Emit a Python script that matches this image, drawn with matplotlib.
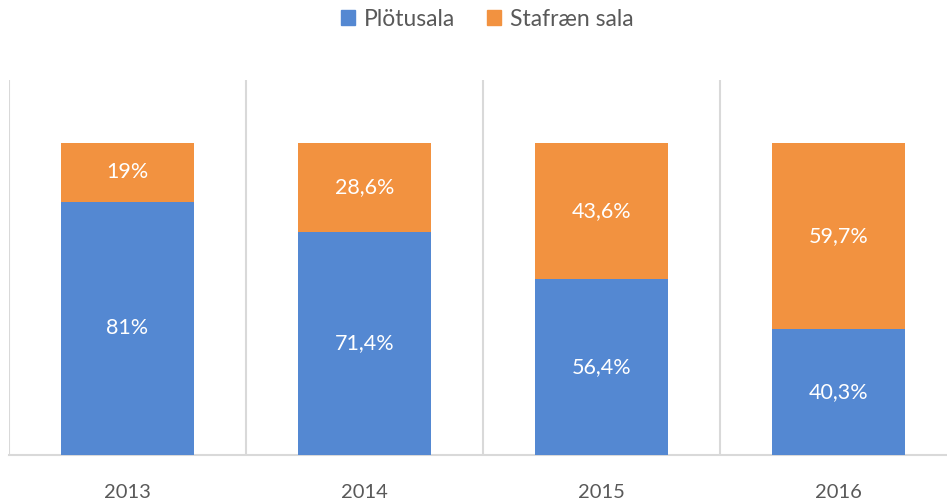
import matplotlib
matplotlib.use("Agg")
import matplotlib.pyplot as plt
from matplotlib.patches import Patch

plt.rcParams['font.family'] = ['Lato', 'DejaVu Sans']

years = ["2013", "2014", "2015", "2016"]
plotusala = [81, 71.4, 56.4, 40.3]
stafraen = [19, 28.6, 43.6, 59.7]
plot_labels = ["81%", "71,4%", "56,4%", "40,3%"]
staf_labels = ["19%", "28,6%", "43,6%", "59,7%"]

blue = "#5488D2"
orange = "#F29240"
txt = "#595959"

fig = plt.figure(figsize=(9.47, 5.01), dpi=100)
ax = fig.add_axes([9/947, (501-455)/501, 938/947, (455-80)/501])

x = list(range(len(years)))
w = 0.56
ax.bar(x, plotusala, width=w, color=blue, zorder=3)
ax.bar(x, stafraen, width=w, bottom=plotusala, color=orange, zorder=3)

for xi, v, lab in zip(x, plotusala, plot_labels):
    ax.text(xi, v / 2, lab, ha='center', va='center', color='white', fontsize=15.5, zorder=4)
for xi, base, v, lab in zip(x, plotusala, stafraen, staf_labels):
    ax.text(xi, base + v / 2, lab, ha='center', va='center', color='white', fontsize=15.5, zorder=4)

ax.set_xlim(-0.5, -0.5 + 938/237)
ax.set_ylim(0, 120)
for b in [-0.5, 0.5, 1.5, 2.5]:
    ax.axvline(b, color="#D9D9D9", lw=1.5, zorder=1)

for s in ['top', 'right', 'left']:
    ax.spines[s].set_visible(False)
ax.spines['bottom'].set_color("#D9D9D9")
ax.spines['bottom'].set_linewidth(1.5)
ax.set_yticks([])
ax.set_xticks(x)
ax.set_xticklabels(years, fontsize=14.5, color=txt)
ax.tick_params(axis='x', length=0, pad=21)

handles = [Patch(color=blue, label="Plötusala"), Patch(color=orange, label="Stafræn sala")]
fig.legend(handles=handles, loc='center', bbox_to_anchor=(0.5 + 14/947, 1 - 19/501), ncol=2,
           frameon=False, fontsize=16.5, labelcolor=txt, handlelength=0.6, handleheight=0.6,
           handletextpad=0.4, columnspacing=1.4)

fig.savefig("out.png", dpi=100)
